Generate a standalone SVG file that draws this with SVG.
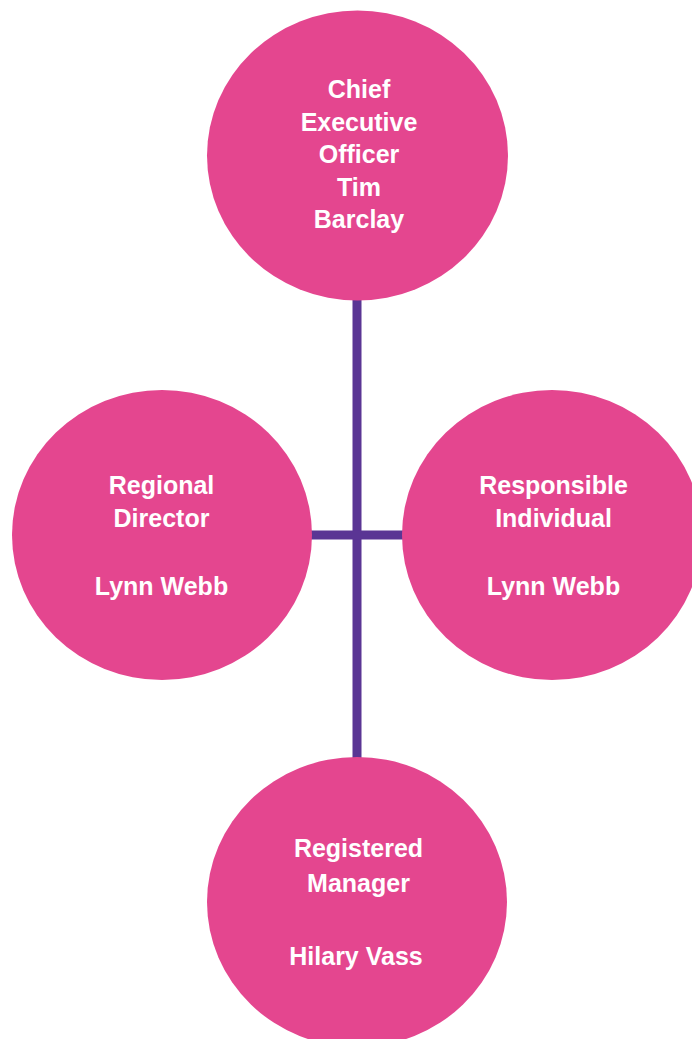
<svg xmlns="http://www.w3.org/2000/svg" width="692" height="1039" viewBox="0 0 692 1039">
<style>
.node{fill:#E4468F}
.conn{stroke:#5A3594;stroke-width:9;fill:none}
.lbl{font-family:"Liberation Sans",Arial,sans-serif;font-weight:bold;font-size:25px;fill:#FFFFFF;text-anchor:middle}
</style>
<rect width="692" height="1039" fill="#FFFFFF"/>
<g id="connectors">
<line class="conn" x1="357" y1="295" x2="357" y2="762"/>
<line class="conn" x1="305" y1="535" x2="408" y2="535"/>
</g>
<g id="ceo">
<ellipse class="node" cx="357.5" cy="155.5" rx="150.5" ry="145"/>
<text class="lbl" x="359" y="98">Chief</text>
<text class="lbl" x="359" y="130.5">Executive</text>
<text class="lbl" x="359" y="163">Officer</text>
<text class="lbl" x="359" y="195.5">Tim</text>
<text class="lbl" x="359" y="228">Barclay</text>
</g>
<g id="regional-director">
<ellipse class="node" cx="162" cy="535" rx="150" ry="145"/>
<text class="lbl" x="161.5" y="494">Regional</text>
<text class="lbl" x="161.5" y="527">Director</text>
<text class="lbl" x="161.5" y="595">Lynn Webb</text>
</g>
<g id="responsible-individual">
<ellipse class="node" cx="552" cy="535" rx="150" ry="145"/>
<text class="lbl" x="553.5" y="494">Responsible</text>
<text class="lbl" x="553.5" y="527">Individual</text>
<text class="lbl" x="553.5" y="595">Lynn Webb</text>
</g>
<g id="registered-manager">
<ellipse class="node" cx="357" cy="902" rx="150" ry="145"/>
<text class="lbl" x="358.5" y="857">Registered</text>
<text class="lbl" x="358.5" y="892">Manager</text>
<text class="lbl" x="356" y="965">Hilary Vass</text>
</g>
</svg>
